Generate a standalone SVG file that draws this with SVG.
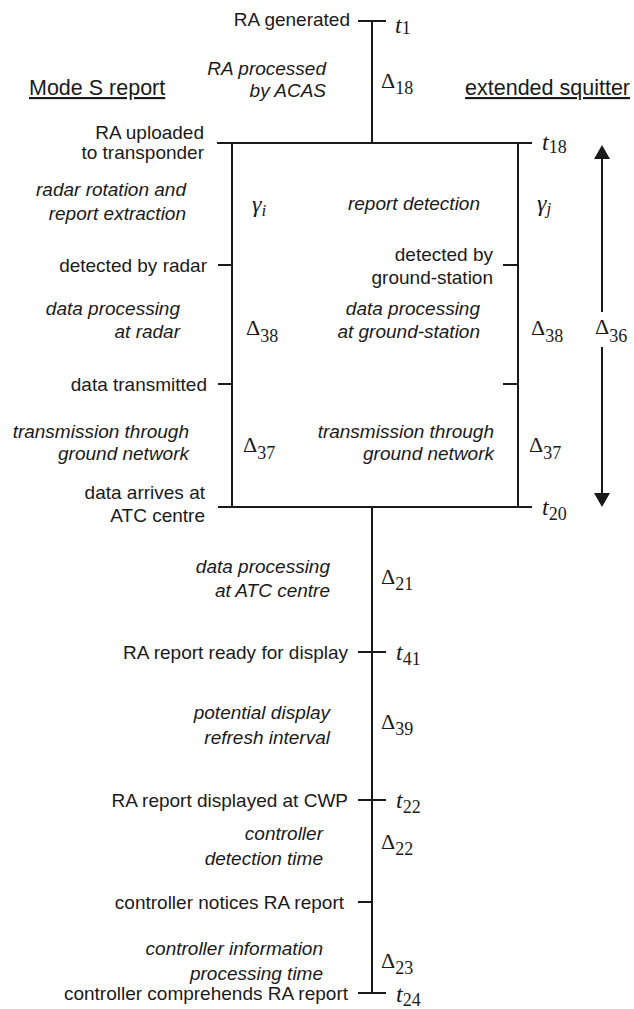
<svg xmlns="http://www.w3.org/2000/svg" width="634" height="1009" viewBox="0 0 634 1009">
<style>
.s{font-family:"Liberation Sans",Arial,sans-serif;font-size:19px;fill:#1a1a1a}
.h{font-family:"Liberation Sans",Arial,sans-serif;font-size:21.5px;fill:#1a1a1a;text-decoration:underline}
.i{font-family:"Liberation Sans",Arial,sans-serif;font-size:19px;font-style:italic;fill:#1a1a1a}
.m{font-family:"Liberation Serif","Times New Roman",serif;font-size:22px;fill:#1a1a1a}
.mi{font-family:"Liberation Serif","Times New Roman",serif;font-size:24px;font-style:italic;fill:#1a1a1a}
.sub{font-size:18px;font-style:normal}
.subi{font-size:17px;font-style:italic}
.r{text-anchor:end}
.ln{stroke:#1a1a1a;stroke-width:2;fill:none}
</style>
<defs>
<marker id="ah" viewBox="0 0 14 16" refX="0" refY="8" markerWidth="14" markerHeight="16" markerUnits="userSpaceOnUse" orient="auto">
<path d="M0,0 L14,8 L0,16 Z" fill="#1a1a1a"/>
</marker>
</defs>
<g id="connectors">
<line class="ln" x1="372" y1="21" x2="372" y2="143"/>
<line class="ln" x1="358" y1="21" x2="386" y2="21"/>
<line class="ln" x1="217" y1="143" x2="532" y2="143"/>
<line class="ln" x1="232" y1="143" x2="232" y2="507"/>
<line class="ln" x1="518" y1="143" x2="518" y2="507"/>
<line class="ln" x1="218" y1="507" x2="532" y2="507"/>
<line class="ln" x1="218" y1="265" x2="232" y2="265"/>
<line class="ln" x1="503" y1="265" x2="518" y2="265"/>
<line class="ln" x1="218" y1="384" x2="232" y2="384"/>
<line class="ln" x1="503" y1="384" x2="518" y2="384"/>
<line class="ln" x1="372" y1="507" x2="372" y2="993"/>
<line class="ln" x1="358" y1="652" x2="386" y2="652"/>
<line class="ln" x1="358" y1="800" x2="386" y2="800"/>
<line class="ln" x1="358" y1="902" x2="372" y2="902"/>
<line class="ln" x1="358" y1="993" x2="386" y2="993"/>
<line class="ln" x1="602" y1="312" x2="602" y2="159" marker-end="url(#ah)"/>
<line class="ln" x1="602" y1="347" x2="602" y2="493" marker-end="url(#ah)"/>
</g>
<g id="headers">
<text class="h" x="29" y="95">Mode S report</text>
<text class="h r" x="630" y="95">extended squitter</text>
</g>
<g id="t1">
<text class="s r" x="350" y="26">RA generated</text>
<text class="mi" x="395" y="33">t<tspan class="sub" font-size="15" dy="1">1</tspan></text>
</g>
<g id="d18">
<text class="i r" x="326" y="75">RA processed</text>
<text class="i r" x="326" y="97">by ACAS</text>
<text class="m" x="381" y="88">Δ<tspan class="sub" dy="6">18</tspan></text>
</g>
<g id="t18">
<text class="s r" x="204" y="139">RA uploaded</text>
<text class="s r" x="204" y="159">to transponder</text>
<text class="mi" x="542" y="150">t<tspan class="sub" dy="3">18</tspan></text>
</g>
<g id="gi">
<text class="i r" x="186" y="196">radar rotation and</text>
<text class="i r" x="186" y="220">report extraction</text>
<text class="mi" x="252" y="212">γ<tspan class="subi" dy="4">i</tspan></text>
</g>
<g id="gj">
<text class="i r" x="480" y="210">report detection</text>
<text class="mi" x="537" y="211">γ<tspan class="subi" dy="3">j</tspan></text>
</g>
<g id="detected-radar">
<text class="s r" x="207" y="272">detected by radar</text>
</g>
<g id="detected-gs">
<text class="s r" x="493" y="261">detected by</text>
<text class="s r" x="493" y="284">ground-station</text>
</g>
<g id="d38-left">
<text class="i r" x="180" y="315">data processing</text>
<text class="i r" x="180" y="338">at radar</text>
<text class="m" x="246" y="335">Δ<tspan class="sub" dy="7">38</tspan></text>
</g>
<g id="d38-right">
<text class="i r" x="480" y="315">data processing</text>
<text class="i r" x="480" y="338">at ground-station</text>
<text class="m" x="531" y="335">Δ<tspan class="sub" dy="7">38</tspan></text>
</g>
<g id="d36">
<text class="m" x="595" y="334">Δ<tspan class="sub" dy="8">36</tspan></text>
</g>
<g id="data-transmitted">
<text class="s r" x="207" y="391">data transmitted</text>
</g>
<g id="d37-left">
<text class="i r" x="189" y="438">transmission through</text>
<text class="i r" x="189" y="460">ground network</text>
<text class="m" x="243" y="452">Δ<tspan class="sub" dy="7">37</tspan></text>
</g>
<g id="d37-right">
<text class="i r" x="494" y="438">transmission through</text>
<text class="i r" x="494" y="460">ground network</text>
<text class="m" x="529" y="452">Δ<tspan class="sub" dy="7">37</tspan></text>
</g>
<g id="t20">
<text class="s r" x="205" y="499">data arrives at</text>
<text class="s r" x="205" y="522">ATC centre</text>
<text class="mi" x="542" y="515">t<tspan class="sub" dy="5">20</tspan></text>
</g>
<g id="d21">
<text class="i r" x="330" y="573">data processing</text>
<text class="i r" x="330" y="597">at ATC centre</text>
<text class="m" x="381" y="584">Δ<tspan class="sub" dy="6">21</tspan></text>
</g>
<g id="t41">
<text class="s r" x="348" y="659">RA report ready for display</text>
<text class="mi" x="396" y="660">t<tspan class="sub" dy="5">41</tspan></text>
</g>
<g id="d39">
<text class="i r" x="330" y="719">potential display</text>
<text class="i r" x="330" y="744">refresh interval</text>
<text class="m" x="381" y="729">Δ<tspan class="sub" dy="6">39</tspan></text>
</g>
<g id="t22">
<text class="s r" x="348" y="807">RA report displayed at CWP</text>
<text class="mi" x="396" y="808">t<tspan class="sub" dy="5">22</tspan></text>
</g>
<g id="d22">
<text class="i r" x="323" y="840">controller</text>
<text class="i r" x="323" y="865">detection time</text>
<text class="m" x="381" y="849">Δ<tspan class="sub" dy="6">22</tspan></text>
</g>
<g id="notices">
<text class="s r" x="344" y="909">controller notices RA report</text>
</g>
<g id="d23">
<text class="i r" x="323" y="955">controller information</text>
<text class="i r" x="323" y="980">processing time</text>
<text class="m" x="381" y="968">Δ<tspan class="sub" dy="6">23</tspan></text>
</g>
<g id="t24">
<text class="s r" x="348" y="1000">controller comprehends RA report</text>
<text class="mi" x="396" y="1002">t<tspan class="sub" dy="4">24</tspan></text>
</g>
</svg>
